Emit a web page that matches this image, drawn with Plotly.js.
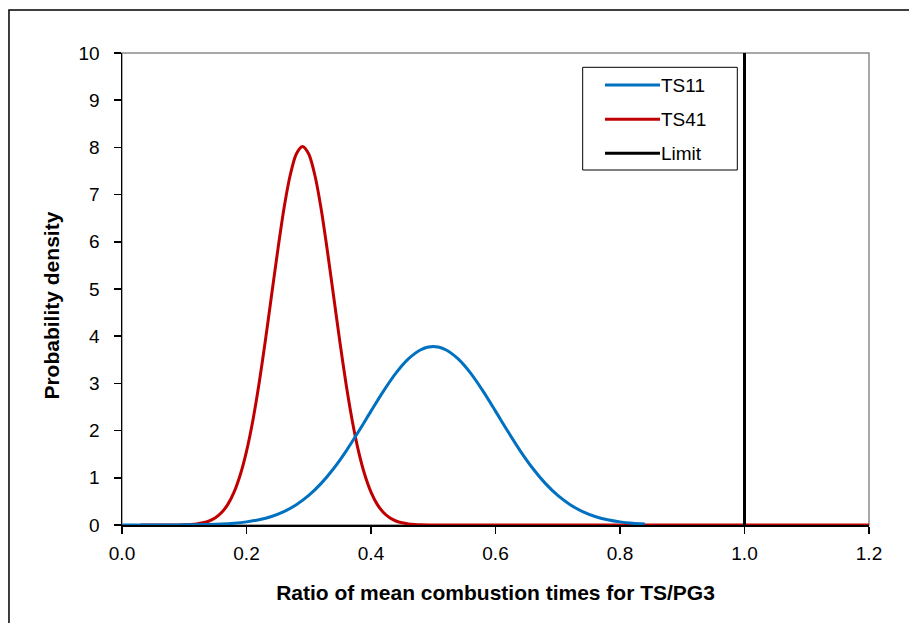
<!DOCTYPE html>
<html>
<head>
<meta charset="utf-8">
<script src="https://cdn.plot.ly/plotly-3.0.1.min.js"></script>
<style>html,body{margin:0;padding:0;background:#fff;}#chart{width:909px;height:623px;}</style>
</head>
<body>
<div id="chart"></div>
<script>
// TS11 probability density
const ts11X = [0.00,0.02,0.04,0.06,0.08,0.10,0.12,0.14,0.16,0.18,0.20,0.22,0.24,0.26,0.28,0.30,0.32,0.34,0.36,0.38,0.40,0.42,0.44,0.46,0.48,0.50,0.52,0.54,0.56,0.58,0.60,0.62,0.64,0.66,0.68,0.70,0.72,0.74,0.76,0.78,0.80,0.82,0.84];
const ts11Y = [0.000,0.000,0.000,0.000,0.001,0.003,0.006,0.011,0.021,0.038,0.066,0.112,0.181,0.284,0.430,0.627,0.882,1.197,1.567,1.980,2.412,2.835,3.216,3.518,3.713,3.780,3.713,3.518,3.216,2.835,2.412,1.980,1.567,1.197,0.882,0.627,0.430,0.284,0.181,0.112,0.066,0.038,0.021];

// TS41 probability density
const ts41X = [0.03,0.06,0.09,0.10,0.11,0.12,0.13,0.14,0.15,0.16,0.17,0.18,0.19,0.20,0.21,0.22,0.23,0.24,0.25,0.26,0.27,0.28,0.29,0.30,0.31,0.32,0.33,0.34,0.35,0.36,0.37,0.38,0.39,0.40,0.41,0.42,0.43,0.44,0.45,0.46,0.47,0.48,0.50,0.60,0.80,1.00,1.20];
const ts41Y = [0.000,0.000,0.001,0.005,0.012,0.023,0.046,0.085,0.153,0.264,0.437,0.696,1.064,1.56,2.20,2.98,3.88,4.84,5.80,6.69,7.40,7.86,8.02,7.86,7.40,6.69,5.80,4.84,3.88,2.98,2.20,1.56,1.064,0.696,0.437,0.264,0.153,0.085,0.046,0.023,0.012,0.005,0.001,0.000,0.000,0.000,0.000];

// Limit line
const limitX = [1.0, 1.0];
const limitY = [0, 10];

const seriesNames = ["TS11", "TS41", "Limit"];
const seriesColors = ["#0070C0", "#C00000", "#000000"];

const xTicks = [0.0,0.2,0.4,0.6,0.8,1.0,1.2];
const xTickText = ["0.0","0.2","0.4","0.6","0.8","1.0","1.2"];
const yTicks = [0,1,2,3,4,5,6,7,8,9,10];

const font = "Liberation Sans, Arial, sans-serif";

const traces = [
  {x: ts41X, y: ts41Y, name: seriesNames[1], mode: "lines", line: {color: seriesColors[1], width: 3, shape: "spline", smoothing: 0.8}, hoverinfo: "skip", showlegend: false},
  {x: ts11X, y: ts11Y, name: seriesNames[0], mode: "lines", line: {color: seriesColors[0], width: 3, shape: "spline", smoothing: 0.8}, hoverinfo: "skip", showlegend: false},
  {x: limitX, y: limitY, name: seriesNames[2], mode: "lines", line: {color: seriesColors[2], width: 3}, hoverinfo: "skip", showlegend: false}
];

// Legend drawn in paper coordinates
const legBox = {x0: 0.6167, x1: 0.8237, y0: 0.7521, y1: 0.9697};
const legLineX = [0.6466, 0.7202];
const legRowY = [0.9322, 0.8595, 0.7875];
const legTextX = 0.7195;

const shapes = [
  {type: "rect", xref: "paper", yref: "paper", x0: 0, x1: 1, y0: 0, y1: 1, line: {color: "#8c8c8c", width: 1.5}, layer: "below"},
  {type: "rect", xref: "paper", yref: "paper", x0: -0.1513, x1: 1.2, y0: -0.3, y1: 1.0911, line: {color: "#000", width: 1.5}, layer: "below"},
  {type: "rect", xref: "paper", yref: "paper", x0: legBox.x0, x1: legBox.x1, y0: legBox.y0, y1: legBox.y1, line: {color: "#000", width: 1}, fillcolor: "#fff", layer: "above"}
];
const annotations = [
  {xref: "paper", yref: "paper", x: -0.095, y: 0.465, xanchor: "center", yanchor: "middle", textangle: -90, showarrow: false,
   text: "<b>Probability density</b>", font: {family: font, size: 21, color: "#000"}}
];
seriesNames.forEach((n, i) => {
  shapes.push({type: "line", xref: "paper", yref: "paper", x0: legLineX[0], x1: legLineX[1], y0: legRowY[i], y1: legRowY[i], line: {color: seriesColors[i], width: 3}, layer: "above"});
  annotations.push({xref: "paper", yref: "paper", x: legTextX, y: legRowY[i], xanchor: "left", yanchor: "middle", text: n, showarrow: false, font: {family: font, size: 19, color: "#000"}});
});

const layout = {
  width: 909, height: 623,
  margin: {l: 122, r: 40, t: 53, b: 98},
  paper_bgcolor: "#ffffff", plot_bgcolor: "#ffffff",
  font: {family: font, size: 19, color: "#000"},
  showlegend: false,
  xaxis: {
    range: [0, 1.2], tickvals: xTicks, ticktext: xTickText,
    showgrid: false, zeroline: false,
    showline: true, linecolor: "#000", linewidth: 1.5,
    ticks: "outside", ticklen: 7, tickcolor: "#000", tickwidth: 1.5,
    ticklabelstandoff: 4,
    tickfont: {family: font, size: 19, color: "#000"},
    title: {text: "<b>Ratio of mean combustion times for TS/PG3</b>", font: {family: font, size: 21, color: "#000"}, standoff: 22}
  },
  yaxis: {
    range: [0, 10], tickvals: yTicks,
    showgrid: false, zeroline: false,
    showline: true, linecolor: "#000", linewidth: 1.5,
    ticks: "outside", ticklen: 7, tickcolor: "#000", tickwidth: 1.5,
    ticklabelstandoff: 10,
    tickfont: {family: font, size: 19, color: "#000"}
  },
  shapes: shapes,
  annotations: annotations
};

Plotly.newPlot("chart", traces, layout, {staticPlot: true});
</script>
</body>
</html>
